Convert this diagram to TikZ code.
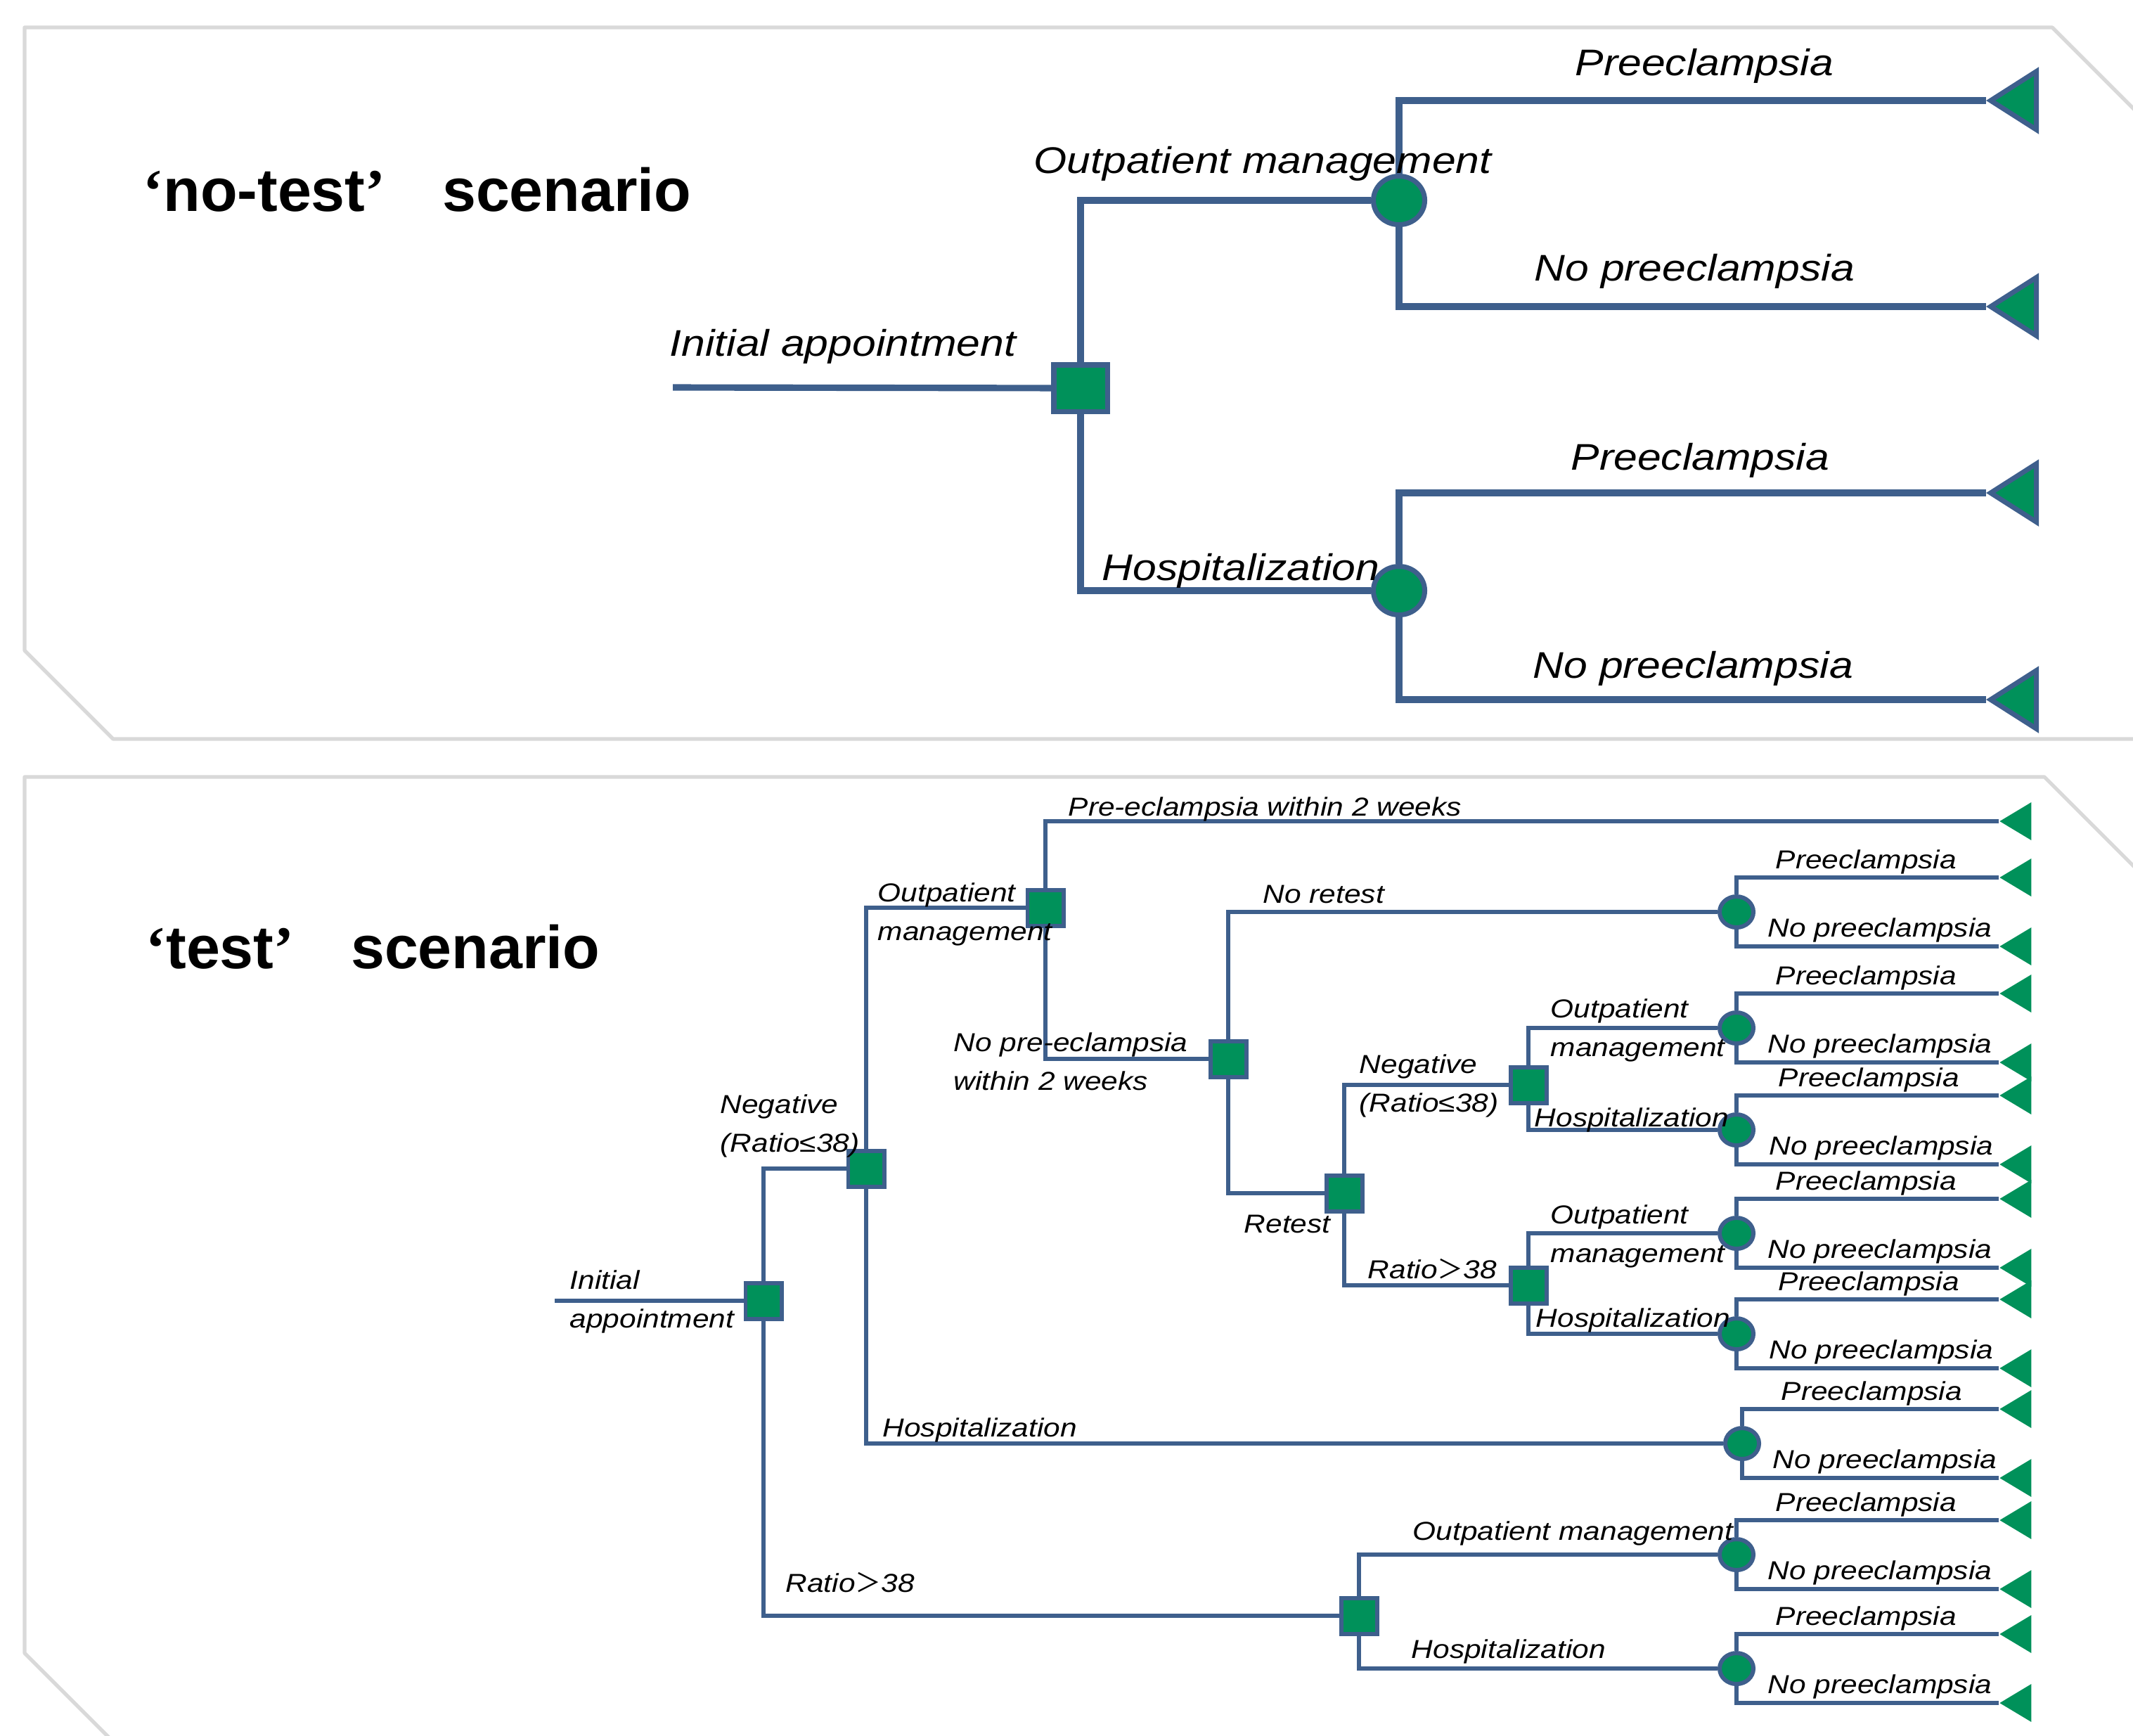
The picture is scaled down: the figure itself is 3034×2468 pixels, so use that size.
\documentclass[tikz,border=0pt]{standalone}
\usepackage{fontspec}
\usetikzlibrary{shapes.geometric}
\newfontfamily\treefont{Liberation Sans}[FakeStretch=1.15]
\newfontfamily\titlefont{Liberation Sans}
\newfontfamily\quotefont{Liberation Serif}
\newfontfamily\cjkfont{Noto Sans CJK SC}
\newcommand{\ratiogt}{{\cjkfont ＞}}
\definecolor{treeblue}{RGB}{62,95,140}
\definecolor{treegreen}{RGB}{0,145,90}
\definecolor{framegray}{RGB}{217,217,217}
\tikzstyle{frame} = [draw=framegray, line width=1.5pt, line join=round]
\tikzstyle{title} = [font=\titlefont\bfseries\fontsize{24.5}{28}\selectfont, anchor=base west, inner sep=0pt]
\tikzstyle{bigtext} = [font=\treefont\itshape\fontsize{15}{18}\selectfont, anchor=base west, inner sep=0pt]
\tikzstyle{smalltext} = [font=\treefont\itshape\fontsize{10.5}{15.6}\selectfont, anchor=base west, inner sep=0pt, align=left]
\tikzstyle{bigsquare} = [rectangle, draw=treeblue, fill=treegreen, line width=2pt, minimum width=0.76cm, minimum height=0.66cm, inner sep=0pt]
\tikzstyle{bigchance} = [ellipse, draw=treeblue, fill=treegreen, line width=2pt, minimum width=0.73cm, minimum height=0.69cm, inner sep=0pt]
\tikzstyle{bigend} = [isosceles triangle, isosceles triangle apex angle=65, rotate=180, draw=treeblue, fill=treegreen, line width=2pt, minimum height=0.65cm, inner sep=0pt, anchor=apex]
\tikzstyle{bigbranch} = [draw=treeblue, line width=2.6pt]
\tikzstyle{smallsquare} = [rectangle, draw=treeblue, fill=treegreen, line width=1.7pt, minimum width=0.51cm, minimum height=0.51cm, inner sep=0pt]
\tikzstyle{smallchance} = [ellipse, draw=treeblue, fill=treegreen, line width=1.7pt, minimum width=0.48cm, minimum height=0.44cm, inner sep=0pt]
\tikzstyle{smallend} = [isosceles triangle, isosceles triangle apex angle=62, rotate=180, fill=treegreen, minimum height=0.45cm, inner sep=0pt, anchor=apex]
\tikzstyle{smallbranch} = [draw=treeblue, line width=1.55pt]

\begin{document}
\begin{tikzpicture}[x=0.01cm, y=-0.01cm]
\useasboundingbox (0,0) rectangle (3034,2468);
\clip (0,0) rectangle (3034,2468);

% panels
\draw[frame] (3150,1051) -- (161,1051) -- (35,925) -- (35,39) -- (2919,39) -- (3150,270);
\draw[frame] (220,2536) -- (152,2468) -- (35,2351) -- (35,1105) -- (2908,1105) -- (3150,1347);

\node[title] (ttlnotest) at (203,300) {{\quotefont ‘}no-test{\quotefont ’}\hspace{23pt}scenario};
\node[title] (ttltest) at (207,1377) {{\quotefont ‘}test{\quotefont ’}\hspace{23pt}scenario};

% 'no-test' tree
\coordinate (initA) at (957,551);
\node (dInit) [bigsquare] at (1537,552) {};
\node (cOut) [bigchance] at (1990,285) {};
\node (cHosp) [bigchance] at (1990,840) {};
\node (tOutPre) [bigend] at (2825,143) {};
\node (tOutNo) [bigend] at (2825,436) {};
\node (tHospPre) [bigend] at (2825,701) {};
\node (tHospNo) [bigend] at (2825,995) {};
\draw[bigbranch] (initA) -- (dInit);
\draw[bigbranch] (dInit) |- (cOut);
\draw[bigbranch] (dInit) |- (cHosp);
\draw[bigbranch] (cOut) |- (tOutPre.apex);
\draw[bigbranch] (cOut) |- (tOutNo.apex);
\draw[bigbranch] (cHosp) |- (tHospPre.apex);
\draw[bigbranch] (cHosp) |- (tHospNo.apex);
\node (lInitA) [bigtext] at (952,506) {Initial appointment};
\node (lOutA) [bigtext] at (1470,246) {Outpatient management};
\node (lHospA) [bigtext] at (1567,825) {Hospitalization};
\node (lOutPre) [bigtext] at (2240,107) {Preeclampsia};
\node (lOutNo) [bigtext] at (2182,399) {No preeclampsia};
\node (lHospPre) [bigtext] at (2234,668) {Preeclampsia};
\node (lHospNo) [bigtext] at (2180,964) {No preeclampsia};

% 'test' tree
\coordinate (initB) at (789,1850);
\node (dTest) [smallsquare] at (1086,1850) {};
\node (dNeg) [smallsquare] at (1232,1662) {};
\node (dPos) [smallsquare] at (1933,2298) {};
\node (dOut) [smallsquare] at (1487,1291) {};
\node (dNoPre) [smallsquare] at (1747,1506) {};
\node (dRetest) [smallsquare] at (1912,1697) {};
\node (dReNeg) [smallsquare] at (2174,1543) {};
\node (dRePos) [smallsquare] at (2174,1828) {};
\node (cNoRetest) [smallchance] at (2470,1297) {};
\node (cReNegOut) [smallchance] at (2470,1462) {};
\node (cReNegHosp) [smallchance] at (2470,1607) {};
\node (cRePosOut) [smallchance] at (2470,1754) {};
\node (cRePosHosp) [smallchance] at (2470,1897) {};
\node (cNegHosp) [smallchance] at (2478,2053) {};
\node (cPosOut) [smallchance] at (2470,2211) {};
\node (cPosHosp) [smallchance] at (2470,2373) {};
\node (tPre2w) [smallend] at (2843,1168) {};
\node (tNoRetestPre) [smallend] at (2843,1248) {};
\node (tNoRetestNo) [smallend] at (2843,1346) {};
\node (tReNegOutPre) [smallend] at (2843,1413) {};
\node (tReNegOutNo) [smallend] at (2843,1511) {};
\node (tReNegHospPre) [smallend] at (2843,1558) {};
\node (tReNegHospNo) [smallend] at (2843,1656) {};
\node (tRePosOutPre) [smallend] at (2843,1705) {};
\node (tRePosOutNo) [smallend] at (2843,1803) {};
\node (tRePosHospPre) [smallend] at (2843,1848) {};
\node (tRePosHospNo) [smallend] at (2843,1946) {};
\node (tNegHospPre) [smallend] at (2843,2004) {};
\node (tNegHospNo) [smallend] at (2843,2102) {};
\node (tPosOutPre) [smallend] at (2843,2162) {};
\node (tPosOutNo) [smallend] at (2843,2260) {};
\node (tPosHospPre) [smallend] at (2843,2324) {};
\node (tPosHospNo) [smallend] at (2843,2422) {};
\draw[smallbranch] (initB) -- (dTest);
\draw[smallbranch] (dTest) |- (dNeg);
\draw[smallbranch] (dTest) |- (dPos);
\draw[smallbranch] (dNeg) |- (dOut);
\draw[smallbranch] (dNeg) |- (cNegHosp);
\draw[smallbranch] (dOut) |- (tPre2w.apex);
\draw[smallbranch] (dOut) |- (dNoPre);
\draw[smallbranch] (dNoPre) |- (cNoRetest);
\draw[smallbranch] (dNoPre) |- (dRetest);
\draw[smallbranch] (dRetest) |- (dReNeg);
\draw[smallbranch] (dRetest) |- (dRePos);
\draw[smallbranch] (dReNeg) |- (cReNegOut);
\draw[smallbranch] (dReNeg) |- (cReNegHosp);
\draw[smallbranch] (dRePos) |- (cRePosOut);
\draw[smallbranch] (dRePos) |- (cRePosHosp);
\draw[smallbranch] (dPos) |- (cPosOut);
\draw[smallbranch] (dPos) |- (cPosHosp);
\draw[smallbranch] (cNoRetest) |- (tNoRetestPre.apex);
\draw[smallbranch] (cNoRetest) |- (tNoRetestNo.apex);
\draw[smallbranch] (cReNegOut) |- (tReNegOutPre.apex);
\draw[smallbranch] (cReNegOut) |- (tReNegOutNo.apex);
\draw[smallbranch] (cReNegHosp) |- (tReNegHospPre.apex);
\draw[smallbranch] (cReNegHosp) |- (tReNegHospNo.apex);
\draw[smallbranch] (cRePosOut) |- (tRePosOutPre.apex);
\draw[smallbranch] (cRePosOut) |- (tRePosOutNo.apex);
\draw[smallbranch] (cRePosHosp) |- (tRePosHospPre.apex);
\draw[smallbranch] (cRePosHosp) |- (tRePosHospNo.apex);
\draw[smallbranch] (cNegHosp) |- (tNegHospPre.apex);
\draw[smallbranch] (cNegHosp) |- (tNegHospNo.apex);
\draw[smallbranch] (cPosOut) |- (tPosOutPre.apex);
\draw[smallbranch] (cPosOut) |- (tPosOutNo.apex);
\draw[smallbranch] (cPosHosp) |- (tPosHospPre.apex);
\draw[smallbranch] (cPosHosp) |- (tPosHospNo.apex);
\node (lInitB) [smalltext] at (810,1888) {Initial\\appointment};
\node (lNeg) [smalltext] at (1024,1638) {Negative\\(Ratio≤38)};
\node (lPos) [smalltext] at (1117,2264) {Ratio\ratiogt38};
\node (lOut) [smalltext] at (1248,1337) {Outpatient\\management};
\node (lNegHosp) [smalltext] at (1255,2043) {Hospitalization};
\node (lPre2w) [smalltext] at (1519,1160) {Pre-eclampsia within 2 weeks};
\node (lNoPre2w) [smalltext] at (1356,1550) {No pre-eclampsia\\within 2 weeks};
\node (lNoRetest) [smalltext] at (1796,1284) {No retest};
\node (lRetest) [smalltext] at (1769,1753) {Retest};
\node (lReNeg) [smalltext] at (1933,1581) {Negative\\(Ratio≤38)};
\node (lRePos) [smalltext] at (1945,1818) {Ratio\ratiogt38};
\node (lReNegOut) [smalltext] at (2205,1502) {Outpatient\\management};
\node (lReNegHosp) [smalltext] at (2182,1602) {Hospitalization};
\node (lRePosOut) [smalltext] at (2205,1795) {Outpatient\\management};
\node (lRePosHosp) [smalltext] at (2184,1887) {Hospitalization};
\node (lPosOut) [smalltext] at (2009,2190) {Outpatient management};
\node (lPosHosp) [smalltext] at (2007,2358) {Hospitalization};
\node (lNoRetestPre) [smalltext] at (2525,1235) {Preeclampsia};
\node (lNoRetestNo) [smalltext] at (2514,1332) {No preeclampsia};
\node (lReNegOutPre) [smalltext] at (2525,1400) {Preeclampsia};
\node (lReNegOutNo) [smalltext] at (2514,1497) {No preeclampsia};
\node (lReNegHospPre) [smalltext] at (2529,1545) {Preeclampsia};
\node (lReNegHospNo) [smalltext] at (2516,1642) {No preeclampsia};
\node (lRePosOutPre) [smalltext] at (2525,1692) {Preeclampsia};
\node (lRePosOutNo) [smalltext] at (2514,1789) {No preeclampsia};
\node (lRePosHospPre) [smalltext] at (2529,1835) {Preeclampsia};
\node (lRePosHospNo) [smalltext] at (2516,1932) {No preeclampsia};
\node (lNegHospPre) [smalltext] at (2533,1991) {Preeclampsia};
\node (lNegHospNo) [smalltext] at (2521,2088) {No preeclampsia};
\node (lPosOutPre) [smalltext] at (2525,2149) {Preeclampsia};
\node (lPosOutNo) [smalltext] at (2514,2246) {No preeclampsia};
\node (lPosHospPre) [smalltext] at (2525,2311) {Preeclampsia};
\node (lPosHospNo) [smalltext] at (2514,2408) {No preeclampsia};
\end{tikzpicture}
\end{document}
